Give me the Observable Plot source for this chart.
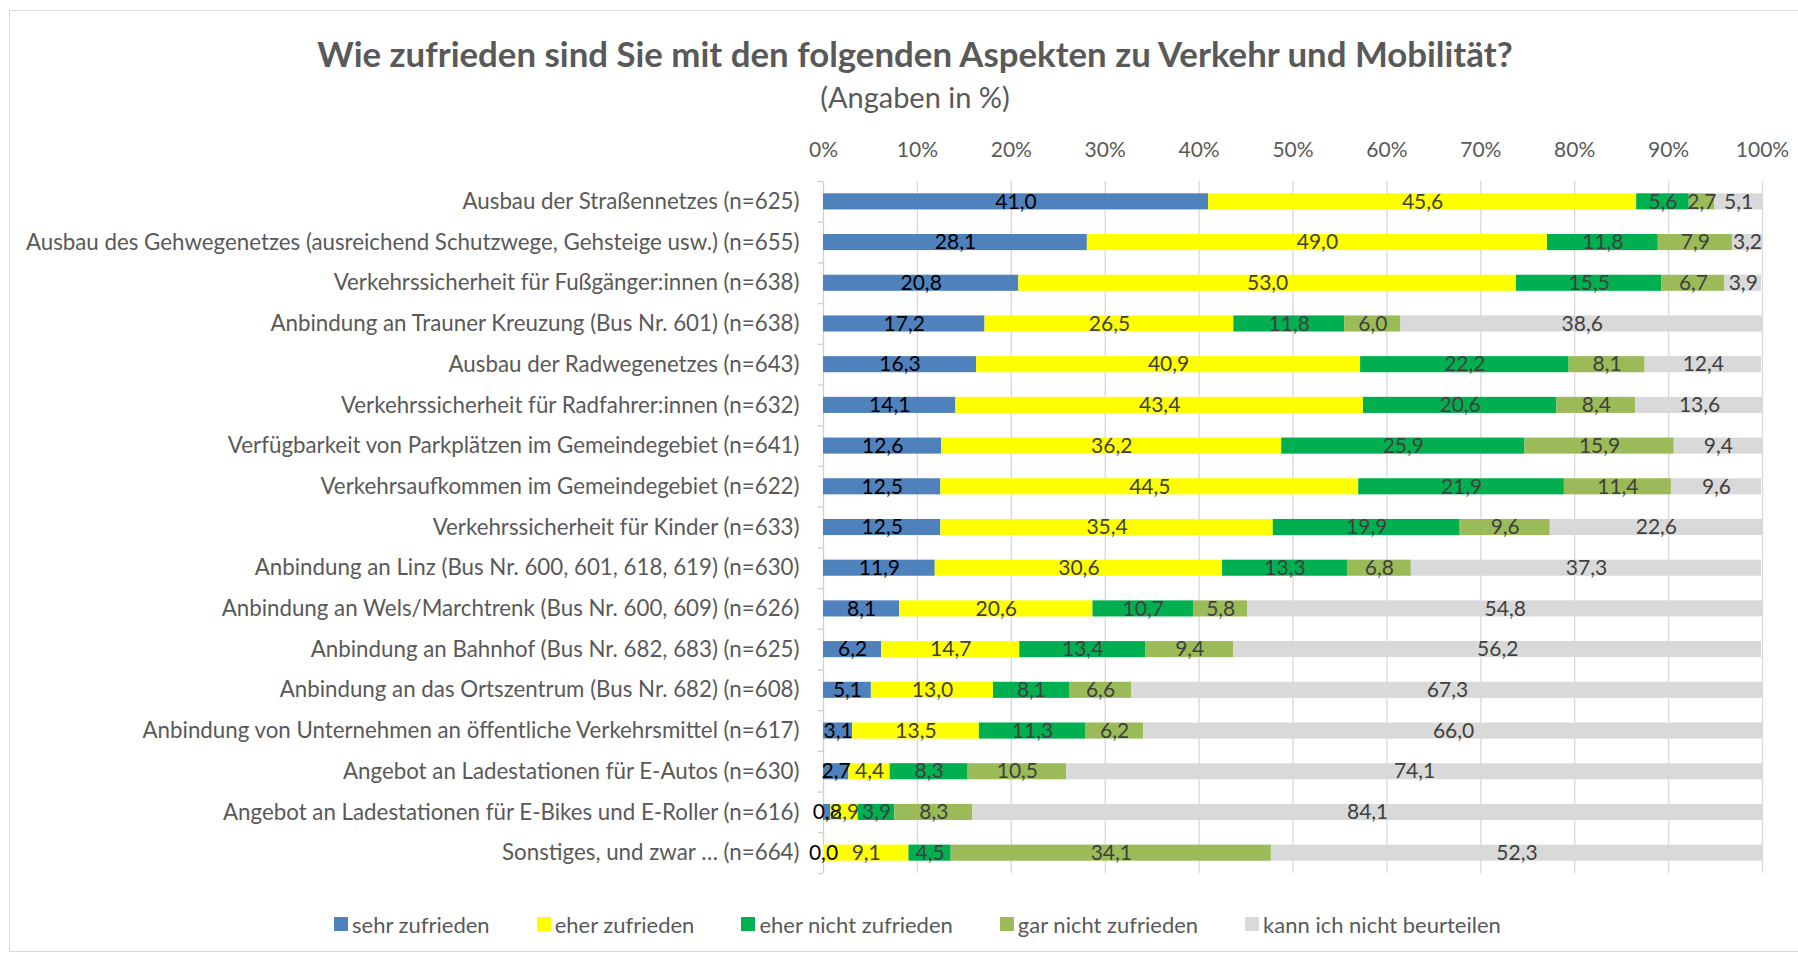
<!DOCTYPE html>
<html>
<head>
<meta charset="utf-8">
<script src="https://cdn.jsdelivr.net/npm/d3@7"></script>
<script src="https://cdn.jsdelivr.net/npm/@observablehq/plot@0.6"></script>
<style>
  html, body { margin: 0; padding: 0; background: #fff; }
  body { width: 1798px; height: 958px; position: relative; overflow: hidden; font-family: Lato, "Open Sans", sans-serif; color: #595959; }
  #frame { position: absolute; left: 9px; top: 10px; width: 1820px; height: 942px; border: 1px solid #d9d9d9; box-sizing: border-box; }
  #title { position: absolute; left: 0; width: 1830px; top: 34px; height: 40px; line-height: 40px; text-align: center; font-weight: bold; font-size: 34.8px; color: #595959; }
  #subtitle { position: absolute; left: 0; width: 1830px; top: 80px; height: 34px; line-height: 34px; text-align: center; font-size: 29px; color: #595959; }
  #chart { position: absolute; left: 0; top: 120px; }
  #legend { position: absolute; left: 334px; top: 910px; height: 28px; display: flex; gap: 47px; align-items: center; font-size: 22px; color: #595959; }
  #legend .item { display: flex; align-items: center; gap: 4px; }
  #legend .sw { width: 14px; height: 14px; display: inline-block; }
</style>
</head>
<body>
<div id="frame"></div>
<div id="title">Wie zufrieden sind Sie mit den folgenden Aspekten zu Verkehr und Mobilität?</div>
<div id="subtitle">(Angaben in %)</div>
<div id="chart"></div>
<div id="legend"></div>
<script>
const categories = [
  "Ausbau der Straßennetzes (n=625)",
  "Ausbau des Gehwegenetzes (ausreichend Schutzwege, Gehsteige usw.) (n=655)",
  "Verkehrssicherheit für Fußgänger:innen (n=638)",
  "Anbindung an Trauner Kreuzung (Bus Nr. 601) (n=638)",
  "Ausbau der Radwegenetzes (n=643)",
  "Verkehrssicherheit für Radfahrer:innen (n=632)",
  "Verfügbarkeit von Parkplätzen im Gemeindegebiet (n=641)",
  "Verkehrsaufkommen im Gemeindegebiet (n=622)",
  "Verkehrssicherheit für Kinder (n=633)",
  "Anbindung an Linz (Bus Nr. 600, 601, 618, 619) (n=630)",
  "Anbindung an Wels/Marchtrenk (Bus Nr. 600, 609) (n=626)",
  "Anbindung an Bahnhof (Bus Nr. 682, 683) (n=625)",
  "Anbindung an das Ortszentrum (Bus Nr. 682) (n=608)",
  "Anbindung von Unternehmen an öffentliche Verkehrsmittel (n=617)",
  "Angebot an Ladestationen für E-Autos (n=630)",
  "Angebot an Ladestationen für E-Bikes und E-Roller (n=616)",
  "Sonstiges, und zwar … (n=664)"
];
const seriesNames = ["sehr zufrieden", "eher zufrieden", "eher nicht zufrieden", "gar nicht zufrieden", "kann ich nicht beurteilen"];
const sehrZufrieden      = [41.0, 28.1, 20.8, 17.2, 16.3, 14.1, 12.6, 12.5, 12.5, 11.9, 8.1, 6.2, 5.1, 3.1, 2.7, 0.8, 0.0];
const eherZufrieden      = [45.6, 49.0, 53.0, 26.5, 40.9, 43.4, 36.2, 44.5, 35.4, 30.6, 20.6, 14.7, 13.0, 13.5, 4.4, 2.9, 9.1];
const eherNichtZufrieden = [5.6, 11.8, 15.5, 11.8, 22.2, 20.6, 25.9, 21.9, 19.9, 13.3, 10.7, 13.4, 8.1, 11.3, 8.3, 3.9, 4.5];
const garNichtZufrieden  = [2.7, 7.9, 6.7, 6.0, 8.1, 8.4, 15.9, 11.4, 9.6, 6.8, 5.8, 9.4, 6.6, 6.2, 10.5, 8.3, 34.1];
const kannNicht          = [5.1, 3.2, 3.9, 38.6, 12.4, 13.6, 9.4, 9.6, 22.6, 37.3, 54.8, 56.2, 67.3, 66.0, 74.1, 84.1, 52.3];
const xTicks = [0, 10, 20, 30, 40, 50, 60, 70, 80, 90, 100];

const seriesValues = [sehrZufrieden, eherZufrieden, eherNichtZufrieden, garNichtZufrieden, kannNicht];
const palette = ["#4F81BD", "#FFFF00", "#00B050", "#9BBB59", "#D9D9D9"];

const data = [];
categories.forEach((c, i) => {
  seriesNames.forEach((s, j) => {
    data.push({category: c, series: s, value: seriesValues[j][i]});
  });
});
const fmt = v => v.toFixed(1).replace(".", ",");

const height = 763, marginTop = 61, marginBottom = 10;
const step = (height - marginTop - marginBottom) / categories.length;
const plot = Plot.plot({
  width: 1798,
  height,
  marginLeft: 823,
  marginRight: 36,
  marginTop,
  marginBottom,
  style: {fontFamily: "Lato, 'Open Sans', sans-serif", fontSize: "22.3px", color: "#595959", background: "transparent"},
  x: {domain: [0, 100], axis: null},
  y: {domain: categories, padding: 0, round: false, axis: null},
  color: {domain: seriesNames, range: palette},
  marks: [
    Plot.ruleX(xTicks.slice(1), {x: d => d, stroke: "#d9d9d9", strokeWidth: 1.3}),
    Plot.ruleX([0], {x: d => d, stroke: "#d0d0d0", strokeWidth: 1.3}),
    Plot.barX(data, Plot.stackX({x: "value", y: "category", fill: "series", order: seriesNames, insetTop: 12.3, insetBottom: 12.3})),
    Plot.text(data, Plot.stackX({
      x: "value", y: "category", z: "series", order: seriesNames,
      text: d => fmt(d.value),
      fill: d => d.series === "sehr zufrieden" ? "#000000" : "#404040",
      fontSize: 21
    })),
    Plot.ruleY(categories, {y: d => d, x1: -0.55, x2: 0, dy: -step / 2, stroke: "#d0d0d0", strokeWidth: 1.3}),
    Plot.ruleY([categories[categories.length - 1]], {y: d => d, x1: -0.55, x2: 0, dy: step / 2, stroke: "#d0d0d0", strokeWidth: 1.3}),
    Plot.axisX({anchor: "top", ticks: xTicks, tickSize: 0, tickPadding: 25, tickFormat: d => d + "%", fontSize: 21, label: null}),
    Plot.axisY({anchor: "left", tickSize: 0, tickPadding: 24, fontSize: 22.3, label: null})
  ]
});
document.getElementById("chart").appendChild(plot);

const legend = document.getElementById("legend");
seriesNames.forEach((s, j) => {
  const item = document.createElement("div");
  item.className = "item";
  const sw = document.createElement("span");
  sw.className = "sw";
  sw.style.background = palette[j];
  const t = document.createElement("span");
  t.textContent = s;
  item.appendChild(sw);
  item.appendChild(t);
  legend.appendChild(item);
});
</script>
</body>
</html>
